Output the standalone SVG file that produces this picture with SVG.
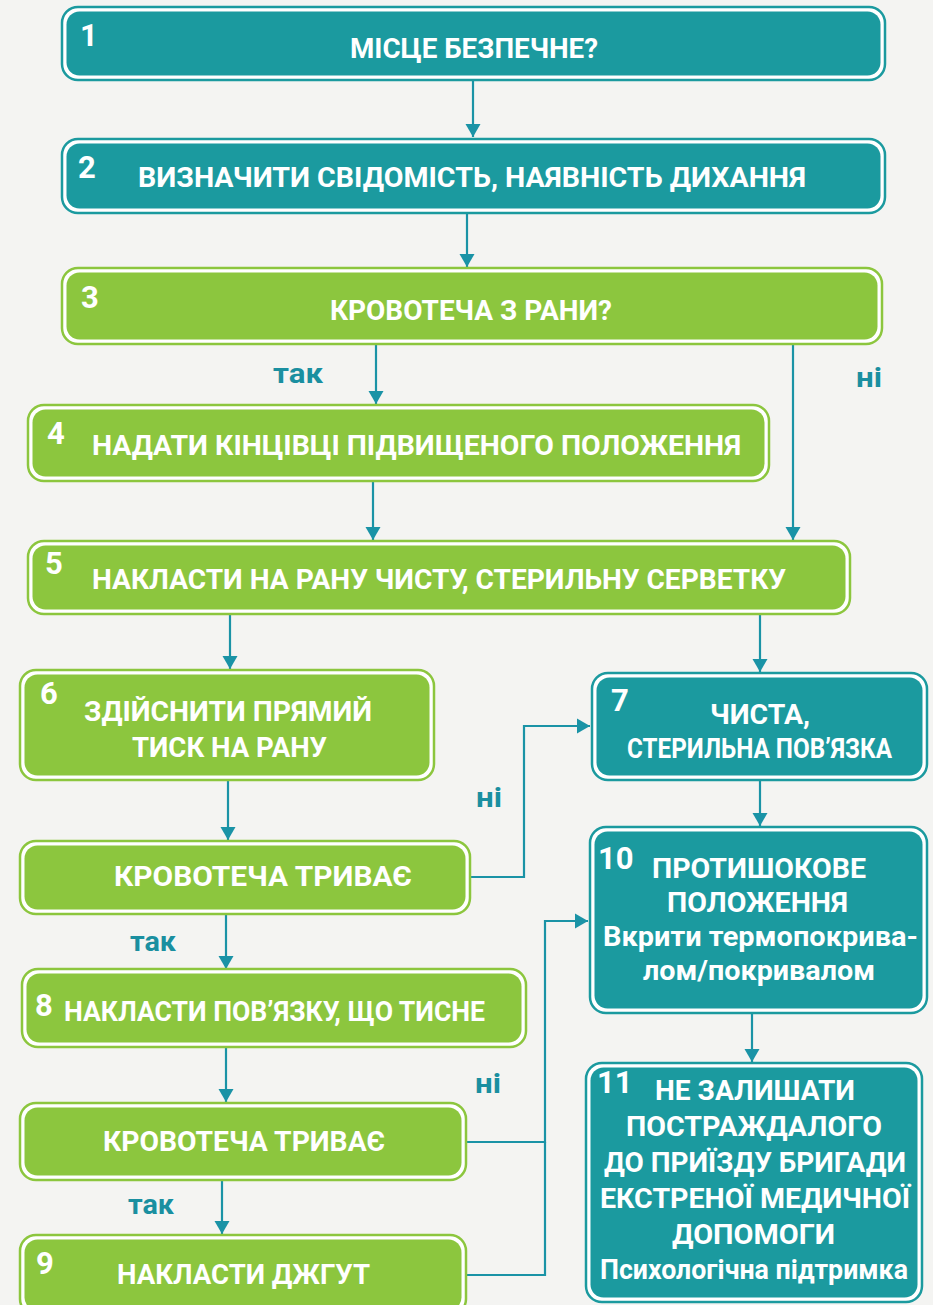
<svg xmlns="http://www.w3.org/2000/svg" width="933" height="1305" viewBox="0 0 933 1305">
<defs>
<style>
.bg{fill:#f4f4f2}
.ot{fill:#ffffff;stroke:#1b9a9f;stroke-width:2.5}
.it{fill:#1b9a9f}
.og{fill:#ffffff;stroke:#8cc63e;stroke-width:2.5}
.ig{fill:#8cc63e}
.t{font-family:Roboto,"Open Sans","DejaVu Sans",sans-serif;font-weight:700;fill:#ffffff;font-size:28px}
.n{font-family:Roboto,"Open Sans","DejaVu Sans",sans-serif;font-weight:700;fill:#ffffff;font-size:31px}
.lb{font-family:Roboto,"Open Sans","DejaVu Sans",sans-serif;font-weight:700;fill:#1a8fa0;font-size:27px}
.c{fill:none;stroke:#1a93a6;stroke-width:2.2}
</style>
<marker id="ah" viewBox="0 0 13 17" refX="13" refY="8.5" markerWidth="13" markerHeight="17" markerUnits="userSpaceOnUse" orient="auto">
<path d="M0,1 L13,8.5 L0,16 Z" fill="#1a93a6"/>
</marker>
</defs>
<rect class="bg" x="0" y="0" width="933" height="1305"/>

<g id="connectors">
<line class="c" x1="473" y1="80" x2="473" y2="137" marker-end="url(#ah)"/>
<line class="c" x1="467" y1="213" x2="467" y2="267" marker-end="url(#ah)"/>
<line class="c" x1="376" y1="344" x2="376" y2="404" marker-end="url(#ah)"/>
<line class="c" x1="793" y1="344" x2="793" y2="540" marker-end="url(#ah)"/>
<line class="c" x1="373" y1="481" x2="373" y2="540" marker-end="url(#ah)"/>
<line class="c" x1="230" y1="614" x2="230" y2="669" marker-end="url(#ah)"/>
<line class="c" x1="760" y1="614" x2="760" y2="672" marker-end="url(#ah)"/>
<line class="c" x1="228" y1="780" x2="228" y2="840" marker-end="url(#ah)"/>
<line class="c" x1="226" y1="914" x2="226" y2="969" marker-end="url(#ah)"/>
<line class="c" x1="226" y1="1047" x2="226" y2="1102" marker-end="url(#ah)"/>
<line class="c" x1="222" y1="1180" x2="222" y2="1234" marker-end="url(#ah)"/>
<line class="c" x1="760" y1="780" x2="760" y2="826" marker-end="url(#ah)"/>
<line class="c" x1="752" y1="1013" x2="752" y2="1062" marker-end="url(#ah)"/>
<polyline class="c" points="470,877 524,877 524,726 590,726" marker-end="url(#ah)"/>
<polyline class="c" points="466,1142 545,1142 545,921 588,921" marker-end="url(#ah)"/>
<polyline class="c" points="466,1275 545,1275 545,1142"/>
<text class="lb" x="273" y="383" textLength="50" lengthAdjust="spacingAndGlyphs">так</text>
<text class="lb" x="856" y="387" textLength="26" lengthAdjust="spacingAndGlyphs">ні</text>
<text class="lb" x="476" y="807" textLength="26" lengthAdjust="spacingAndGlyphs">ні</text>
<text class="lb" x="130" y="951" textLength="46" lengthAdjust="spacingAndGlyphs">так</text>
<text class="lb" x="475" y="1093" textLength="26" lengthAdjust="spacingAndGlyphs">ні</text>
<text class="lb" x="128" y="1214" textLength="46" lengthAdjust="spacingAndGlyphs">так</text>
</g>

<g id="n1">
<rect class="ot" x="62" y="7" width="823" height="73" rx="16"/>
<rect class="it" x="66.5" y="11.5" width="814" height="64" rx="13"/>
<text class="n" x="80" y="46">1</text>
<text class="t" x="350" y="58" textLength="248" lengthAdjust="spacingAndGlyphs">МІСЦЕ БЕЗПЕЧНЕ?</text>
</g>

<g id="n2">
<rect class="ot" x="62" y="139" width="823" height="74" rx="16"/>
<rect class="it" x="66.5" y="143.5" width="814" height="65" rx="13"/>
<text class="n" x="78" y="178">2</text>
<text class="t" x="138" y="187" textLength="668" lengthAdjust="spacingAndGlyphs">ВИЗНАЧИТИ СВІДОМІСТЬ, НАЯВНІСТЬ ДИХАННЯ</text>
</g>

<g id="n3">
<rect class="og" x="62" y="268" width="820" height="76" rx="16"/>
<rect class="ig" x="66.5" y="272.5" width="811" height="67" rx="13"/>
<text class="n" x="81" y="308">3</text>
<text class="t" x="330" y="320" textLength="282" lengthAdjust="spacingAndGlyphs">КРОВОТЕЧА З РАНИ?</text>
</g>

<g id="n4">
<rect class="og" x="28" y="405" width="741" height="76" rx="16"/>
<rect class="ig" x="32.5" y="409.5" width="732" height="67" rx="13"/>
<text class="n" x="47" y="444">4</text>
<text class="t" x="92" y="455" textLength="649" lengthAdjust="spacingAndGlyphs">НАДАТИ КІНЦІВЦІ ПІДВИЩЕНОГО ПОЛОЖЕННЯ</text>
</g>

<g id="n5">
<rect class="og" x="28" y="541" width="822" height="73" rx="16"/>
<rect class="ig" x="32.5" y="545.5" width="813" height="64" rx="13"/>
<text class="n" x="45" y="574">5</text>
<text class="t" x="92" y="589" textLength="694" lengthAdjust="spacingAndGlyphs">НАКЛАСТИ НА РАНУ ЧИСТУ, СТЕРИЛЬНУ СЕРВЕТКУ</text>
</g>

<g id="n6">
<rect class="og" x="20" y="670" width="414" height="110" rx="16"/>
<rect class="ig" x="24.5" y="674.5" width="405" height="101" rx="13"/>
<text class="n" x="40" y="704">6</text>
<text class="t" x="84" y="721" textLength="288" lengthAdjust="spacingAndGlyphs">ЗДІЙСНИТИ ПРЯМИЙ</text>
<text class="t" x="132" y="757" textLength="195" lengthAdjust="spacingAndGlyphs">ТИСК НА РАНУ</text>
</g>

<g id="n6b">
<rect class="og" x="20" y="841" width="450" height="73" rx="16"/>
<rect class="ig" x="24.5" y="845.5" width="441" height="64" rx="13"/>
<text class="t" x="114" y="886" textLength="298" lengthAdjust="spacingAndGlyphs">КРОВОТЕЧА ТРИВАЄ</text>
</g>

<g id="n7">
<rect class="ot" x="592" y="673" width="335" height="107" rx="16"/>
<rect class="it" x="596.5" y="677.5" width="326" height="98" rx="13"/>
<text class="n" x="611" y="711">7</text>
<text class="t" x="710" y="724" textLength="100" lengthAdjust="spacingAndGlyphs">ЧИСТА,</text>
<text class="t" x="627" y="758" textLength="265" lengthAdjust="spacingAndGlyphs">СТЕРИЛЬНА ПОВ’ЯЗКА</text>
</g>

<g id="n8">
<rect class="og" x="22" y="969" width="504" height="78" rx="16"/>
<rect class="ig" x="26.5" y="973.5" width="495" height="69" rx="13"/>
<text class="n" x="35" y="1016">8</text>
<text class="t" x="64" y="1021" textLength="421" lengthAdjust="spacingAndGlyphs">НАКЛАСТИ ПОВ’ЯЗКУ, ЩО ТИСНЕ</text>
</g>

<g id="n8b">
<rect class="og" x="20" y="1103" width="446" height="77" rx="16"/>
<rect class="ig" x="24.5" y="1107.5" width="437" height="68" rx="13"/>
<text class="t" x="103" y="1151" textLength="282" lengthAdjust="spacingAndGlyphs">КРОВОТЕЧА ТРИВАЄ</text>
</g>

<g id="n9">
<rect class="og" x="20" y="1235" width="446" height="80" rx="16"/>
<rect class="ig" x="24.5" y="1239.5" width="437" height="71" rx="13"/>
<text class="n" x="36" y="1274">9</text>
<text class="t" x="117" y="1284" textLength="253" lengthAdjust="spacingAndGlyphs">НАКЛАСТИ ДЖГУТ</text>
</g>

<g id="n10">
<rect class="ot" x="590" y="827" width="337" height="186" rx="16"/>
<rect class="it" x="594.5" y="831.5" width="328" height="177" rx="13"/>
<text class="n" x="598" y="869">10</text>
<text class="t" x="652" y="878" textLength="214" lengthAdjust="spacingAndGlyphs">ПРОТИШОКОВЕ</text>
<text class="t" x="667" y="912" textLength="181" lengthAdjust="spacingAndGlyphs">ПОЛОЖЕННЯ</text>
<text class="t" x="603" y="946" textLength="315" lengthAdjust="spacingAndGlyphs">Вкрити термопокрива-</text>
<text class="t" x="643" y="980" textLength="232" lengthAdjust="spacingAndGlyphs">лом/покривалом</text>
</g>

<g id="n11">
<rect class="ot" x="586" y="1063" width="336" height="239" rx="16"/>
<rect class="it" x="590.5" y="1067.5" width="327" height="230" rx="13"/>
<text class="n" x="597" y="1093">11</text>
<text class="t" x="655" y="1100" textLength="200" lengthAdjust="spacingAndGlyphs">НЕ ЗАЛИШАТИ</text>
<text class="t" x="626" y="1136" textLength="256" lengthAdjust="spacingAndGlyphs">ПОСТРАЖДАЛОГО</text>
<text class="t" x="604" y="1172" textLength="302" lengthAdjust="spacingAndGlyphs">ДО ПРИЇЗДУ БРИГАДИ</text>
<text class="t" x="600" y="1208" textLength="310" lengthAdjust="spacingAndGlyphs">ЕКСТРЕНОЇ МЕДИЧНОЇ</text>
<text class="t" x="672" y="1244" textLength="163" lengthAdjust="spacingAndGlyphs">ДОПОМОГИ</text>
<text class="t" x="600" y="1279" textLength="308" lengthAdjust="spacingAndGlyphs">Психологічна підтримка</text>
</g>
</svg>
